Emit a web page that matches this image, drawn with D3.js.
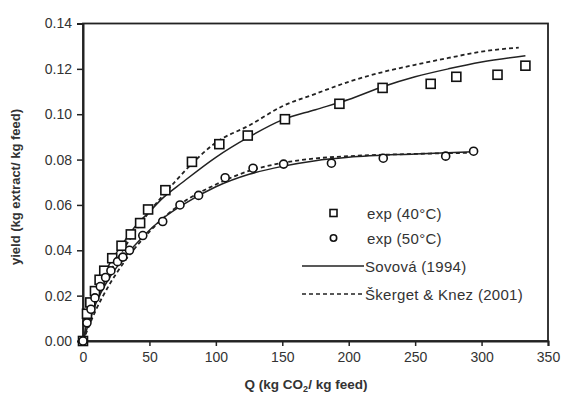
<!DOCTYPE html>
<html><head><meta charset="utf-8">
<script src="https://cdn.jsdelivr.net/npm/d3@7"></script>
<style>
body{margin:0;background:#fff;}
text{font-family:"Liberation Sans",Arial,sans-serif;fill:#333;}
</style></head>
<body><svg id="c" width="562" height="394"></svg>
<script>
// Experimental data (Q, yield)
const q40 = [0,3,5.5,9,12.5,16,22,29,36,43,49,62,82,102.6,124,152,193,225.5,261.7,281,312,333];
const y40 = [0,0.012,0.017,0.022,0.027,0.031,0.0365,0.042,0.047,0.052,0.058,0.0665,0.079,0.0868,0.0906,0.0978,0.1046,0.1116,0.1134,0.1165,0.1174,0.1214];
const q50 = [0,3,6,9,13,17,21,26,30,35,45,60,73,87,107,128,151,187,226,273,294];
const y50 = [0,0.008,0.014,0.019,0.024,0.028,0.031,0.035,0.037,0.040,0.0465,0.0527,0.060,0.0642,0.072,0.0762,0.078,0.0784,0.0806,0.0815,0.0837];
// Model curves
const qSov40 = [0,5,10,20,30,40,50,60,75,100,125,150,175,200,225,250,275,300,333];
const ySov40 = [0,0.013,0.022,0.034,0.043,0.051,0.057,0.063,0.070,0.081,0.090,0.0975,0.102,0.1065,0.112,0.1165,0.120,0.123,0.1258];
const qSk40 = [0,10,20,30,40,50,60,80,100,125,150,175,200,225,250,275,300,328];
const ySk40 = [0,0.018,0.030,0.040,0.049,0.057,0.064,0.077,0.0875,0.095,0.1035,0.109,0.1143,0.1185,0.1218,0.1248,0.1276,0.1294];
const qSov50 = [0,10,20,30,45,60,75,100,125,150,175,200,250,294];
const ySov50 = [0,0.017,0.028,0.036,0.046,0.054,0.060,0.068,0.0735,0.077,0.0795,0.081,0.0825,0.0835];
const qSk50 = [0,10,20,30,45,60,75,100,125,150,175,200,250,294];
const ySk50 = [0,0.014,0.025,0.034,0.045,0.054,0.061,0.069,0.075,0.0785,0.0805,0.0815,0.0825,0.083];
const xTicks = [0,50,100,150,200,250,300,350];
const yTicks = [0,0.02,0.04,0.06,0.08,0.10,0.12,0.14];
const legendLabels = ["exp (40°C)","exp (50°C)","Sovová (1994)","Škerget & Knez (2001)"];

const svg = d3.select("#c");
const L=83,R=548,T=23.5,B=341;
const x = d3.scaleLinear().domain([0,350]).range([L,R]);
const y = d3.scaleLinear().domain([0,0.14]).range([B,T]);

// frame
svg.append("rect").attr("x",L).attr("y",T).attr("width",R-L).attr("height",B-T)
  .attr("fill","none").attr("stroke","#222").attr("stroke-width",1.8);

const xa = svg.append("g").attr("transform",`translate(0,${B})`)
  .call(d3.axisBottom(x).tickValues(xTicks).tickFormat(d3.format("d")).tickSize(5).tickPadding(6));
const ya = svg.append("g").attr("transform",`translate(${L},0)`)
  .call(d3.axisLeft(y).tickValues(yTicks).tickFormat(d3.format(".2f")).tickSize(6).tickPadding(5));
[xa,ya].forEach(a=>{
  a.select(".domain").attr("stroke","#222").attr("stroke-width",2);
  a.selectAll(".tick line").attr("stroke","#222").attr("stroke-width",1.5);
  a.selectAll("text").attr("font-size",14).attr("fill","#333")
   .style("font-family","'Liberation Sans',Arial,sans-serif");
});

const line = d3.line().x(d=>x(d[0])).y(d=>y(d[1])).curve(d3.curveMonotoneX);
const zip=(a,b)=>a.map((v,i)=>[v,b[i]]);
svg.append("path").datum(zip(qSov40,ySov40)).attr("d",line).attr("fill","none").attr("stroke","#222").attr("stroke-width",1.5);
svg.append("path").datum(zip(qSov50,ySov50)).attr("d",line).attr("fill","none").attr("stroke","#222").attr("stroke-width",1.5);
svg.append("path").datum(zip(qSk40,ySk40)).attr("d",line).attr("fill","none").attr("stroke","#222").attr("stroke-width",1.8).attr("stroke-dasharray","4,3");
svg.append("path").datum(zip(qSk50,ySk50)).attr("d",line).attr("fill","none").attr("stroke","#222").attr("stroke-width",1.8).attr("stroke-dasharray","4,3");

// markers
svg.append("g").selectAll("rect").data(zip(q40,y40)).join("rect")
  .attr("x",d=>x(d[0])-4.5).attr("y",d=>y(d[1])-4.5).attr("width",9).attr("height",9)
  .attr("fill","#fff").attr("stroke","#111").attr("stroke-width",1.6);
svg.append("g").selectAll("circle").data(zip(q50,y50)).join("circle")
  .attr("cx",d=>x(d[0])).attr("cy",d=>y(d[1])).attr("r",4)
  .attr("fill","#fff").attr("stroke","#111").attr("stroke-width",1.6);

// legend
const lg = svg.append("g");
lg.append("rect").attr("x",330).attr("y",209.5).attr("width",7).attr("height",7).attr("fill","#fff").attr("stroke","#111").attr("stroke-width",1.6);
lg.append("circle").attr("cx",333.5).attr("cy",238).attr("r",3.2).attr("fill","#fff").attr("stroke","#111").attr("stroke-width",1.6);
lg.append("line").attr("x1",302).attr("x2",364).attr("y1",266).attr("y2",266).attr("stroke","#222").attr("stroke-width",1.5);
lg.append("line").attr("x1",302).attr("x2",362).attr("y1",294).attr("y2",294).attr("stroke","#222").attr("stroke-width",1.6).attr("stroke-dasharray","4,3");
const ly=[218.5,243.5,271.5,299.5], lx=[367,367,365,365];
legendLabels.forEach((t,i)=>lg.append("text").attr("x",lx[i]).attr("y",ly[i]).attr("font-size",15).attr("letter-spacing","0.3").text(t));

// axis titles
svg.append("text").attr("x",306).attr("y",389).attr("text-anchor","middle")
  .attr("font-size",13.5).attr("font-weight","bold").attr("fill","#222")
  .html('Q (kg CO<tspan font-size="9" dy="3">2</tspan><tspan dy="-3">/ kg feed)</tspan>');
svg.append("text").attr("transform","translate(20,187) rotate(-90)").attr("text-anchor","middle")
  .attr("font-size",13).attr("font-weight","bold").attr("fill","#222")
  .text("yield (kg extract/ kg feed)");
</script></body></html>
